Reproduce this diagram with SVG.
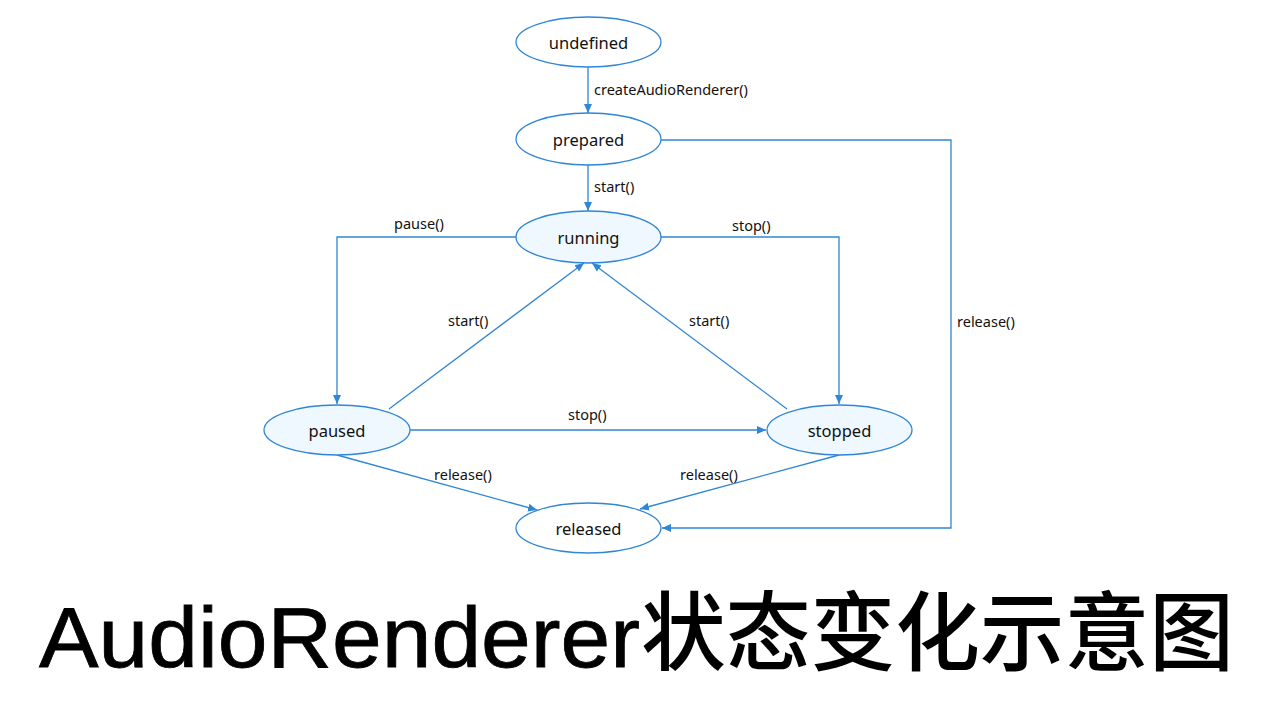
<svg xmlns="http://www.w3.org/2000/svg" width="1279" height="720" viewBox="0 0 1279 720">
<style>
.node{stroke:#2f86d6;stroke-width:1.3;fill:#ffffff}
.act{fill:#eff8ff}
.nl{font-family:"Noto Sans","Open Sans",sans-serif;font-size:16.5px;fill:#111;text-anchor:middle;dominant-baseline:central}
.el{font-family:"Noto Sans","Open Sans",sans-serif;font-size:14.5px;fill:#111}
.edge{stroke:#2f86d6;stroke-width:1.3;fill:none;marker-end:url(#arr)}
</style>
<defs>
<marker id="arr" markerWidth="10" markerHeight="10" refX="9" refY="5" orient="auto" markerUnits="userSpaceOnUse">
<path d="M0,1 L9,5 L0,9 Z" fill="#2f86d6"/>
</marker>
</defs>
<rect width="1279" height="720" fill="#ffffff"/>
<g id="connectors">
<path class="edge" d="M588,67 V113"/>
<path class="edge" d="M588,165 V211"/>
<path class="edge" d="M661,140 H951 V528 H662"/>
<path class="edge" d="M516,237 H337 V404"/>
<path class="edge" d="M661,237 H839 V404"/>
<path class="edge" d="M389,409 L584,263"/>
<path class="edge" d="M787,409 L592,263"/>
<path class="edge" d="M410,430 H766"/>
<path class="edge" d="M337,455 L537,510"/>
<path class="edge" d="M839,455 L640,509"/>
<text class="el" x="594" y="95">createAudioRenderer()</text>
<text class="el" x="594" y="192">start()</text>
<text class="el" x="957" y="327">release()</text>
<text class="el" x="394" y="229">pause()</text>
<text class="el" x="732" y="231">stop()</text>
<text class="el" x="448" y="326">start()</text>
<text class="el" x="689" y="326">start()</text>
<text class="el" x="568" y="420">stop()</text>
<text class="el" x="434" y="480">release()</text>
<text class="el" x="680" y="480">release()</text>
</g>
<g id="undefined"><ellipse class="node" cx="588.5" cy="42" rx="72.5" ry="25"/><text class="nl" x="588.5" y="42">undefined</text></g>
<g id="prepared"><ellipse class="node" cx="588.5" cy="139" rx="72.5" ry="26"/><text class="nl" x="588.5" y="139">prepared</text></g>
<g id="running"><ellipse class="node act" cx="588.5" cy="237" rx="72.5" ry="26"/><text class="nl" x="588.5" y="237">running</text></g>
<g id="paused"><ellipse class="node act" cx="337" cy="430" rx="73" ry="25"/><text class="nl" x="337" y="430">paused</text></g>
<g id="stopped"><ellipse class="node act" cx="839.5" cy="430" rx="72.5" ry="25"/><text class="nl" x="839.5" y="430">stopped</text></g>
<g id="released"><ellipse class="node" cx="588.5" cy="528" rx="72.5" ry="25"/><text class="nl" x="588.5" y="528">released</text></g>
<g id="title">
<text x="39" y="667" font-family="'Liberation Sans',Arial,sans-serif" font-size="86" textLength="601" lengthAdjust="spacingAndGlyphs" fill="#000" stroke="#000" stroke-width="0.8">AudioRenderer</text>
<text x="641" y="664" font-family="'Noto Sans CJK SC',sans-serif" font-size="86" font-weight="500" textLength="593" lengthAdjust="spacingAndGlyphs" fill="#000">状态变化示意图</text>
</g>
</svg>
